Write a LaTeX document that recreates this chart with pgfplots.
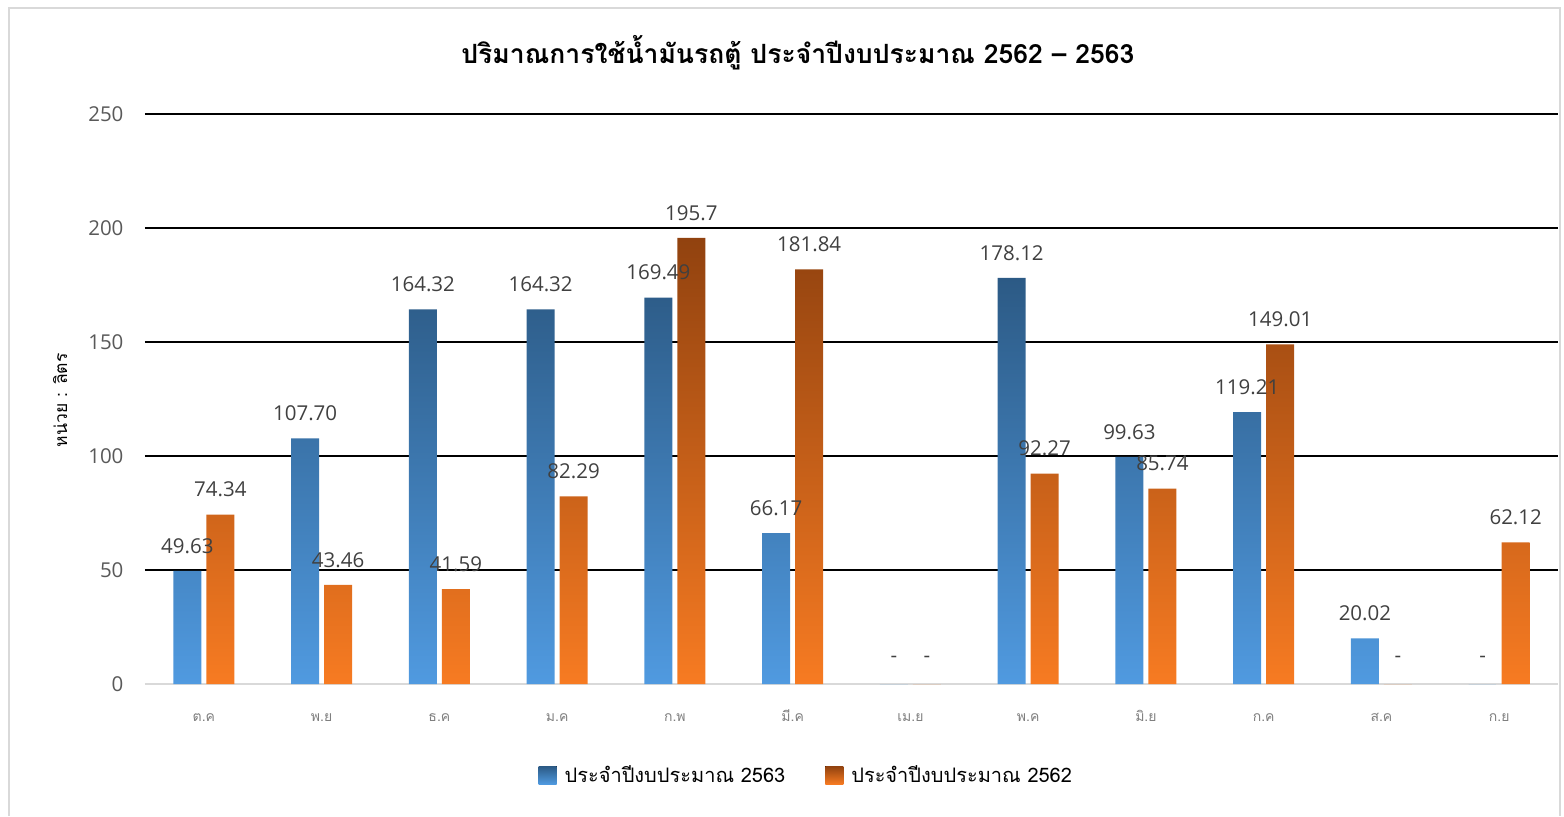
\documentclass[border=0pt]{standalone}
\usepackage{pgfplots}
\pgfplotsset{compat=1.18}
\usepackage{pgfplotstable}
\usepackage{fontspec}
\setmainfont{Open Sans}
\newfontfamily\thai[Script=Thai]{Loma}
\definecolor{bluetop}{HTML}{2C5A85}
\definecolor{bluebot}{HTML}{509AE0}
\definecolor{ortop}{HTML}{91420F}
\definecolor{orbot}{HTML}{F77B22}
\definecolor{lbl}{HTML}{404040}
\definecolor{tickc}{HTML}{595959}
\definecolor{xtickc}{HTML}{7F7F7F}
\definecolor{frame}{HTML}{D9D9D9}

\pgfplotstableread{
x y lab
0 49.63 49.63
1 107.70 107.70
2 164.32 164.32
3 164.32 164.32
4 169.49 169.49
5 66.17 66.17
6 0 -
7 178.12 178.12
8 99.63 99.63
9 119.21 119.21
10 20.02 20.02
11 0 -
}\bluedata

\pgfplotstableread{
x y lab
0 74.34 74.34
1 43.46 43.46
2 41.59 41.59
3 82.29 82.29
4 195.7 195.7
5 181.84 181.84
6 0 -
7 92.27 92.27
8 85.74 85.74
9 149.01 149.01
10 0 -
11 62.12 62.12
}\orangedata

\begin{document}
\begin{tikzpicture}
\begin{axis}[
  scale only axis,
  width=1413pt, height=570pt,
  xmin=-0.5, xmax=11.5,
  ymin=0, ymax=250,
  ybar=5pt, bar width=28pt,
  axis x line*=bottom, axis y line*=left,
  x axis line style={draw=frame, line width=2pt, -},
  y axis line style={draw=none},
  major tick length=0pt,
  xtick={0,...,11},
  xticklabels={ต.ค,พ.ย,ธ.ค,ม.ค,ก.พ,มี.ค,เม.ย,พ.ค,มิ.ย,ก.ค,ส.ค,ก.ย},
  xticklabel style={font=\thai\fontsize{14}{16}\selectfont, text=xtickc, anchor=base, yshift=-37pt},
  ytick={50,100,...,250},
  extra y ticks={0},
  extra y tick style={grid=none},
  ymajorgrids,
  major grid style={black, line width=1.5pt},
  /pgf/number format/assume math mode=true,
  yticklabel style={font=\fontsize{20.5}{24}\selectfont, text=tickc, xshift=-18pt},
  point meta=explicit symbolic,
  nodes near coords,
  every node near coord/.append style={font=\fontsize{20.5}{24}\selectfont, text=lbl, anchor=center, yshift=25pt},
  clip=false,
  legend image code/.code={\fill[#1] (0pt,-9pt) rectangle (18pt,9pt);},
  legend style={at={(0.468,-0.16)}, anchor=center, draw=none, fill=none,
    legend columns=2, font=\thai\fontsize{20}{24}\selectfont,
    /tikz/every odd column/.append style={column sep=6pt},
    /tikz/every even column/.append style={column sep=38pt}},
]
\addplot[draw=none, top color=bluetop, bottom color=bluebot] table[x=x, y=y, meta=lab] {\bluedata};
\addlegendentry{ประจำปีงบประมาณ 2563}
\addplot[draw=none, top color=ortop, bottom color=orbot] table[x=x, y=y, meta=lab] {\orangedata};
\addlegendentry{ประจำปีงบประมาณ 2562}

\node[font=\thai\bfseries\fontsize{26.5}{31}\selectfont, anchor=center] at (rel axis cs:0.462,1.107) {ปริมาณการใช้น้ำมันรถตู้ ประจำปีงบประมาณ 2562 – 2563};
\node[font=\thai\fontsize{17.5}{20}\selectfont, rotate=90, anchor=center] at (rel axis cs:-0.060,0.498) {หน่วย : ลิตร};
\draw[frame, line width=1.5pt] (rel axis cs:-0.0962,-0.2316) -- (rel axis cs:-0.0962,1.186) -- (rel axis cs:1.0014,1.186) -- (rel axis cs:1.0014,-0.2316);
\path (rel axis cs:-0.1026,-0.2316) rectangle (rel axis cs:1.0042,1.2);
\end{axis}
\end{tikzpicture}
\end{document}
